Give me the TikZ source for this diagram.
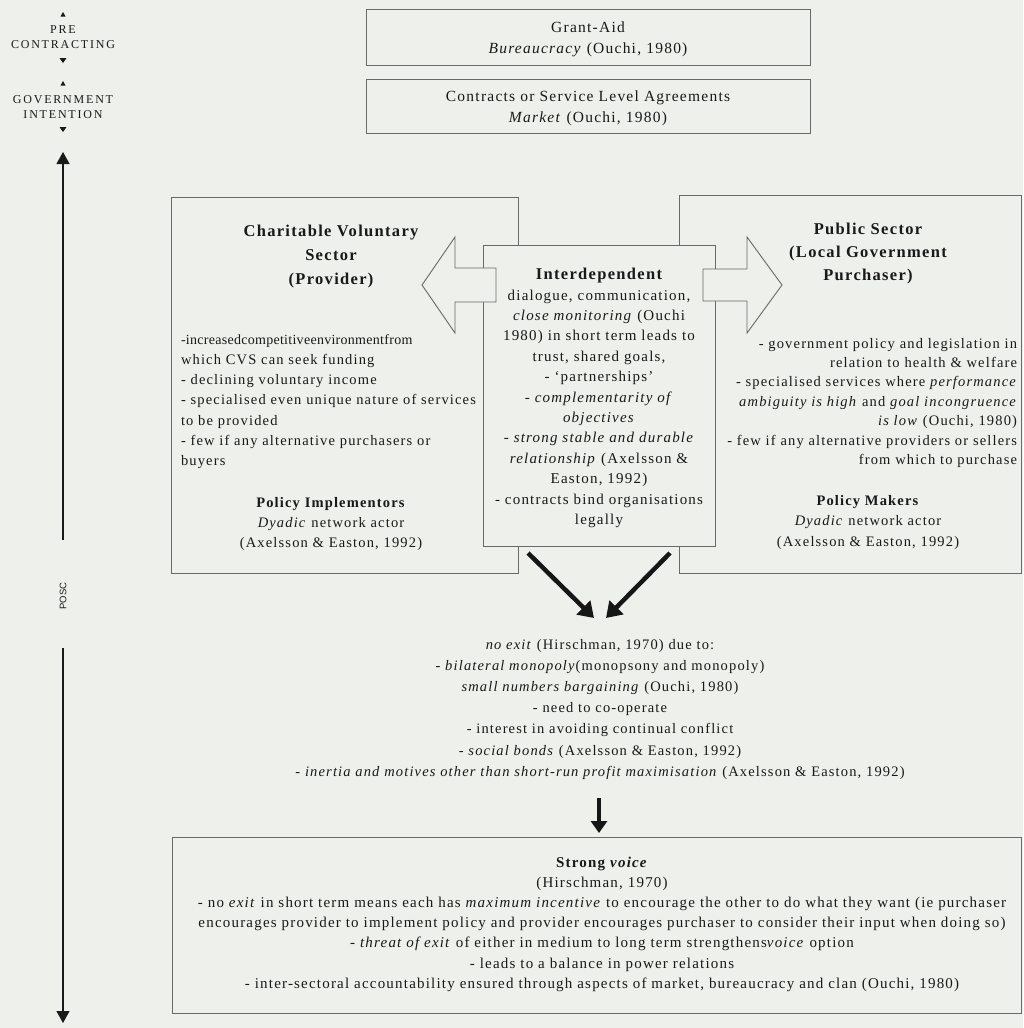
\documentclass[tikz,border=0pt]{standalone}
\usepackage{fontspec}
\setmainfont{Liberation Serif}[LetterSpace=8]
\newfontfamily\tightfont{Liberation Serif}[LetterSpace=2]
\newfontfamily\capsfont{Liberation Serif}[LetterSpace=15]
\newfontfamily\poscfont{Liberation Sans}
\usetikzlibrary{arrows.meta}
\definecolor{bgc}{RGB}{238,240,235}
\definecolor{linec}{RGB}{105,105,105}
\definecolor{txtc}{RGB}{25,25,25}
\definecolor{arrc}{RGB}{22,22,22}
\newcommand{\myrule}[1]{\rule{0pt}{#1}}
\begin{document}
\begin{tikzpicture}[x=1pt,y=-1pt,
  frame/.style={draw=linec, line width=0.9pt, inner sep=0pt, outer sep=0pt},
  body/.style={inner sep=0pt, outer sep=0pt, text=txtc},
  hollow/.style={draw=linec, line width=0.9pt, fill=bgc, line join=miter},
  bigarrow/.style={draw=arrc, line width=4.5pt, -{Triangle[length=15pt,width=19pt]}},
  downarrow/.style={draw=arrc, line width=4pt, -{Triangle[length=12pt,width=16pt]}},
  axarrow/.style={draw=txtc, line width=1.1pt, -{Triangle[length=12pt,width=13pt]}}
]
\useasboundingbox (0,0) rectangle (1023,1028);
\fill[bgc] (0,0) rectangle (1023,1028);

% left side labels
\node[body, anchor=north, align=center, font=\capsfont\fontsize{12}{15}\selectfont] (pre) at (63,23) {\myrule{10pt}PRE\\CONTRACTING};
\node[body, anchor=north, align=center, font=\capsfont\fontsize{12}{15.5}\selectfont] (gov) at (63,93) {\myrule{10pt}GOVERNMENT\\INTENTION};
\fill[txtc] (60.5,16.5) -- (65.5,16.5) -- (63,12) -- cycle;
\fill[txtc] (59.5,58) -- (66.5,58) -- (63,63) -- cycle;
\fill[txtc] (60.5,85.5) -- (65.5,85.5) -- (63,81) -- cycle;
\fill[txtc] (59.5,127) -- (66.5,127) -- (63,132) -- cycle;

% axis
\coordinate (axtop) at (63,152);
\coordinate (axup) at (63,540);
\coordinate (axdown) at (63,648);
\coordinate (axbot) at (63,1023);
\node[body, rotate=90, font=\poscfont\fontsize{9.5}{11}\selectfont] (posc) at (63,596) {POSC};
\draw[axarrow] (axup) -- (axtop);
\draw[axarrow] (axdown) -- (axbot);

% top boxes
\node[frame, minimum width=444pt, minimum height=56pt] (grant) at (588,37) {};
\node[frame, minimum width=444pt, minimum height=54pt] (contract) at (588,106) {};
\node[body, anchor=north, align=center, font=\fontsize{15.5}{21}\selectfont] (grantt) at (588,21) {\myrule{11pt}Grant-Aid\\\textit{Bureaucracy} (Ouchi, 1980)};
\node[body, anchor=north, align=center, font=\fontsize{15.5}{21}\selectfont] (contractt) at (588,90) {\myrule{11pt}Contracts or Service Level Agreements\\\textit{Market} (Ouchi, 1980)};

% side boxes
\node[frame, minimum width=347pt, minimum height=376pt] (cvs) at (344.5,385) {};
\node[frame, minimum width=342pt, minimum height=378pt] (pub) at (850,384) {};
% centre box
\node[frame, fill=bgc, minimum width=232pt, minimum height=301pt] (inter) at (599,395.5) {};

% hollow arrows
\path[hollow] (496,268) -- (455,268) -- (455,237) -- (422,285) -- (455,333) -- (455,302) -- (496,302) -- cycle;
\path[hollow] (703,269) -- (747,269) -- (747,237) -- (782,285) -- (747,333) -- (747,301) -- (703,301) -- cycle;

% left box text
\node[body, anchor=north, align=center, font=\bfseries\fontsize{16.5}{24}\selectfont] (cvsh) at (331,223) {\myrule{13pt}Charitable Voluntary\\Sector\\(Provider)};
\node[body, anchor=north west, align=left, font=\fontsize{14.5}{20.3}\selectfont] (cvsb) at (181,333) {\myrule{11pt}{\tightfont\fontsize{14}{20.3}\selectfont -increasedcompetitiveenvironmentfrom}\\which CVS can seek funding\\- declining voluntary income\\- specialised even unique nature of services\\to be provided\\- few if any alternative purchasers or\\buyers};
\node[body, anchor=north, align=center, font=\fontsize{14.5}{20}\selectfont] (cvsf) at (331,496) {\myrule{11pt}\textbf{Policy Implementors}\\\textit{Dyadic} network actor\\(Axelsson \& Easton, 1992)};

% right box text
\node[body, anchor=north, align=center, font=\bfseries\fontsize{16.5}{23}\selectfont] (pubh) at (868,221) {\myrule{13pt}Public Sector\\(Local Government\\Purchaser)};
\node[body, anchor=north east, align=right, font=\fontsize{14.5}{19.4}\selectfont] (pubb) at (1017,337) {\myrule{11pt}- government policy and legislation in\\relation to health \& welfare\\- specialised services where \textit{performance}\\\textit{ambiguity is high} and \textit{goal incongruence}\\\textit{is low} (Ouchi, 1980)\\- few if any alternative providers or sellers\\from which to purchase};
\node[body, anchor=north, align=center, font=\fontsize{14.5}{20.5}\selectfont] (pubf) at (868,494) {\myrule{11pt}\textbf{Policy Makers}\\\textit{Dyadic} network actor\\(Axelsson \& Easton, 1992)};

% centre text
\node[body, anchor=north, align=center, font=\bfseries\fontsize{16.5}{20}\selectfont] (interh) at (599,266) {\myrule{13pt}Interdependent};
\node[body, anchor=north, align=center, font=\fontsize{15}{20.4}\selectfont] (interb) at (599,289) {\myrule{11pt}dialogue, communication,\\\textit{close monitoring} (Ouchi\\1980) in short term leads to\\trust, shared goals,\\- `partnerships'\\\textit{- complementarity of}\\\textit{objectives}\\\textit{- strong stable and durable}\\\textit{relationship} (Axelsson \&\\Easton, 1992)\\- contracts bind organisations\\legally};

% black arrows
\coordinate (la) at (528,553);
\coordinate (ra) at (670,553);
\coordinate (lb) at (594,618);
\coordinate (rb) at (606,618);
\draw[bigarrow] (la) -- (lb);
\draw[bigarrow] (ra) -- (rb);

% no exit text
\node[body, anchor=north, align=center, font=\fontsize{14.5}{21.2}\selectfont] (noexit) at (600,638) {\myrule{11pt}\textit{no exit} (Hirschman, 1970) due to:\\\textit{- bilateral monopoly}(monopsony and monopoly)\\\textit{small numbers bargaining} (Ouchi, 1980)\\- need to co-operate\\- interest in avoiding continual conflict\\- \textit{social bonds} (Axelsson \& Easton, 1992)\\- \textit{inertia and motives other than short-run profit maximisation} (Axelsson \& Easton, 1992)};

\coordinate (da) at (599,798);
\coordinate (db) at (599,833);
\draw[downarrow] (da) -- (db);

% bottom box
\node[frame, minimum width=849pt, minimum height=176pt] (voice) at (596.5,925) {};
\node[body, anchor=north, align=center, font=\fontsize{15}{20.2}\selectfont] (voicet) at (602,856) {\myrule{11pt}\textbf{Strong \textit{voice}}\\(Hirschman, 1970)\\- no \textit{exit} in short term means each has \textit{maximum incentive} to encourage the other to do what they want (ie purchaser\\encourages provider to implement policy and provider encourages purchaser to consider their input when doing so)\\- \textit{threat of exit} of either in medium to long term strengthens\textit{voice} option\\- leads to a balance in power relations\\- inter-sectoral accountability ensured through aspects of market, bureaucracy and clan (Ouchi, 1980)};
\end{tikzpicture}
\end{document}
